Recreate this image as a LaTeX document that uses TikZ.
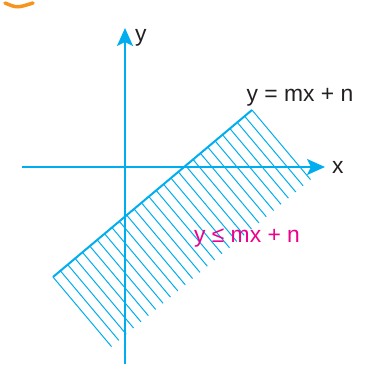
\documentclass[tikz,border=0pt]{standalone}
\usepackage{fontspec}
\setmainfont{Liberation Sans}
\usepackage{xcolor}
\usetikzlibrary{arrows.meta, calc}
\definecolor{axiscyan}{HTML}{00AEEF}
\definecolor{inkmagenta}{HTML}{EC008C}
\definecolor{inkdark}{HTML}{231F20}
\definecolor{markorange}{HTML}{F7941D}

\begin{document}
\begin{tikzpicture}[
    x=0.2mm, y=0.2mm,
    >={Stealth[length=3.6mm, width=3.2mm, inset=0.8mm]},
    axis/.style={draw=axiscyan, line width=0.45mm, ->},
    border/.style={draw=axiscyan, line width=0.4mm},
    hatch/.style={draw=axiscyan, line width=0.2mm},
    lbl/.style={font=\fontsize{13}{15}\selectfont, text=inkdark, inner sep=1pt}
]
\useasboundingbox (-125,-197) rectangle (254,167);

% ==========================================
% 1. Corner fragment
% ==========================================
\draw[markorange, line width=0.7mm, line cap=round] (-120,164) .. controls (-108,159) .. (-92,164);

% ==========================================
% 2. Axes and boundary points
% ==========================================
\coordinate (O) at (0,0);
\coordinate (xStart) at (-103,0);
\coordinate (xEnd) at (200,0);
\coordinate (yStart) at (0,-197);
\coordinate (yEnd) at (0,139);

\coordinate (L0) at (-72,-110); % lower end of y = mx + n
\coordinate (L1) at (127,57);   % upper end of y = mx + n

% ==========================================
% 3. Hatching below the line
% ==========================================
\foreach \t in {0,...,27} {
    \draw[hatch] ($(L0)!\t/27!(L1)$) -- ++(58.5,-69.6);
}

\draw[axis] (xStart) -- (xEnd);
\draw[axis] (yStart) -- (yEnd);
\draw[border] (L0) -- (L1);

% ==========================================
% 4. Labels
% ==========================================
\node[lbl, anchor=west] (xLabel) at (205,0) {x};
\node[lbl, anchor=west] (yLabel) at (8,129) {y};
\node[lbl] (lineLabel) at (175,70) {y = mx + n};
\node[lbl, text=inkmagenta] (regionLabel) at (122,-71) {y ≤ mx + n};

\end{tikzpicture}
\end{document}
